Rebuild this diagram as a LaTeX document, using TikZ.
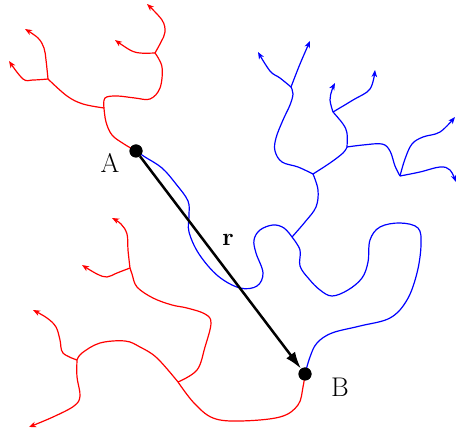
\documentclass[tikz,border=0pt]{standalone}
\usetikzlibrary{arrows.meta}
\begin{document}
\begin{tikzpicture}[x=1pt,y=-1pt,
  redline/.style={draw=red,line width=1.2pt,line join=round},
  blueline/.style={draw=blue,line width=1.2pt,line join=round},
  tip/.style={-{Stealth[length=7pt,width=5.5pt,inset=2pt]}},
  dot/.style={circle,fill=black,inner sep=0pt,minimum size=13pt},
  lbl/.style={font=\fontsize{27}{30}\selectfont,inner sep=0pt},
  sm/.style={smooth,tension=0.6}]
\useasboundingbox (0,0) rectangle (456,430);
% points
\node[dot] (A) at (136,151) {};
\node[dot] (B) at (305,374) {};
\coordinate (J1) at (104,108);
\coordinate (J2) at (155,53);
\coordinate (J3) at (48,79);
\coordinate (J) at (292,237);
\coordinate (K) at (313,174);
\coordinate (L) at (291,87);
\coordinate (M) at (347,147);
\coordinate (N) at (333,112);
\coordinate (P) at (400,176);
\coordinate (Q) at (178,382);
\coordinate (S) at (130,268);
\coordinate (T) at (77,360);
% red tree from A
\draw[redline] plot[sm] coordinates {(A.center) (124,144) (112,135) (106,122) (J1)};
\draw[redline] plot[sm] coordinates {(J1) (105,98) (117,96) (135,98) (150,99) (160,88) (162,67) (J2)};
\draw[redline,tip] plot[sm] coordinates {(J2) (161,42) (165,32) (162,20) (147,4)};
\draw[redline,tip] plot[sm] coordinates {(J2) (140,53) (130,50) (115,40)};
\draw[redline] plot[sm] coordinates {(J1) (83,104) (67,96) (J3)};
\draw[redline,tip] plot[sm] coordinates {(J3) (46,60) (44,48) (38,38) (25,29)};
\draw[redline,tip] plot[sm] coordinates {(J3) (33,80) (23,79) (9,61)};
% blue tree from A
\draw[blueline] plot[sm] coordinates {(A.center) (145,157) (162,168) (176,184) (188,201) (189,216) (189,232) (199,254) (218,276) (240,288) (257,286) (263,273) (256,253) (254,240) (260,230) (273,225) (284,228) (J)};
\draw[blueline] plot[sm] coordinates {(J) (300,250) (300,266) (309,279) (320,290) (332,296) (348,290) (362,278) (368,262) (370,240) (380,227) (400,223) (418,228) (421,245) (417,273) (407,300) (390,318) (360,326) (332,333) (317,343) (310,357) (B.center)};
\draw[blueline] plot[sm] coordinates {(J) (305,222) (316,207) (318,190) (K)};
\draw[blueline] plot[sm] coordinates {(K) (298,167) (282,162) (275,151) (276,138) (283,120) (290,105) (293,94) (L)};
\draw[blueline,tip] plot[sm] coordinates {(L) (280,78) (270,71) (258,52)};
\draw[blueline,tip] plot[sm] coordinates {(L) (300,64) (310,41)};
\draw[blueline] plot[sm] coordinates {(K) (330,163) (343,153) (M)};
\draw[blueline] plot[sm] coordinates {(M) (347,133) (343,124) (N)};
\draw[blueline,tip] plot[sm] coordinates {(N) (330,100) (332,90) (335,83)};
\draw[blueline,tip] plot[sm] coordinates {(N) (353,100) (370,89) (375,70)};
\draw[blueline] plot[sm] coordinates {(M) (363,145) (382,144) (390,151) (395,166) (P)};
\draw[blueline,tip] plot[sm] coordinates {(P) (405,159) (412,144) (423,137) (440,132) (455,117)};
\draw[blueline,tip] plot[sm] coordinates {(P) (420,172) (440,167) (450,170) (456,182)};
% red tree from B
\draw[redline] plot[sm] coordinates {(B.center) (303,387) (298,405) (280,417) (240,421) (213,418) (194,403) (Q)};
\draw[redline] plot[sm] coordinates {(Q) (197,370) (205,347) (211,323) (205,314) (187,308) (172,305) (153,298) (137,287) (132,274) (S)};
\draw[redline,tip] plot[sm] coordinates {(S) (128,250) (127,234) (121,224) (112,218)};
\draw[redline,tip] plot[sm] coordinates {(S) (117,273) (107,277) (97,274) (82,265)};
\draw[redline] plot[sm] coordinates {(Q) (157,358) (140,347) (125,341) (100,343) (82,353) (T)};
\draw[redline,tip] plot[sm] coordinates {(T) (63,353) (60,340) (56,327) (47,318) (33,310)};
\draw[redline,tip] plot[sm] coordinates {(T) (77,377) (80,396) (74,406) (53,417) (29,427)};
% displacement vector
\draw[line width=2.5pt,-{Latex[length=17pt,width=11pt]}] (A) -- (B);
\node[dot] at (A) {};
\node[dot] at (B) {};
% labels
\node[lbl] (la) at (110,163) {A};
\node[lbl] (lb) at (340,387) {B};
\node[lbl] (lr) at (228,240) {$\mathbf{r}$};
\end{tikzpicture}
\end{document}
